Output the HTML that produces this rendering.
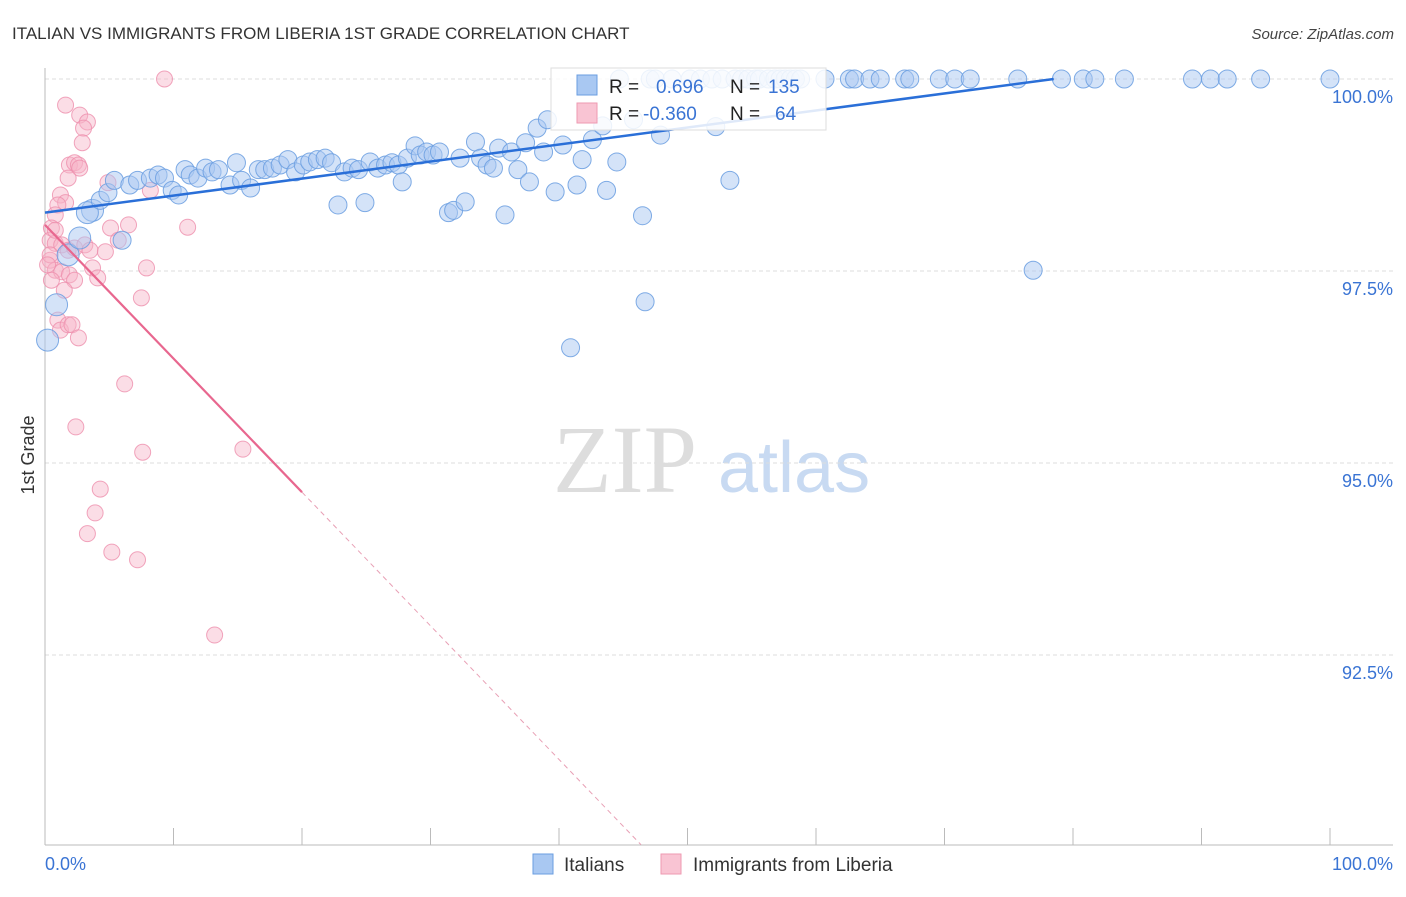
<!DOCTYPE html>
<html><head><meta charset="utf-8"><style>
body{margin:0;background:#fff;font-family:"Liberation Sans",sans-serif}
svg text{font-family:"Liberation Sans",sans-serif}
</style></head><body>
<svg id="chart" width="1406" height="892" viewBox="0 0 1406 892" xmlns="http://www.w3.org/2000/svg">
<text x="12" y="39" font-size="17" fill="#333">ITALIAN VS IMMIGRANTS FROM LIBERIA 1ST GRADE CORRELATION CHART</text>
<text x="1394" y="39" font-size="15" fill="#444" text-anchor="end" font-style="italic">Source: ZipAtlas.com</text>
<text transform="translate(34,455) rotate(-90)" font-size="18" fill="#333" text-anchor="middle">1st Grade</text>
<g>
<text x="553" y="492" font-size="96" fill="#ddd" font-family="Liberation Serif" style="font-family:'Liberation Serif',serif">ZIP</text>
<text x="718" y="492" font-size="72" fill="#c8daf2">atlas</text>
</g>
<g id="grid"></g><g id="axes"></g><g id="pinkpts"></g><g id="bluepts"></g><g id="lines"></g>
<g>
<rect x="551" y="68" width="275" height="62" fill="#fff" fill-opacity="0.85" stroke="#ddd"/>
<rect x="577" y="75" width="20" height="20" fill="#a9c8f2" stroke="#6a9ee0"/>
<rect x="577" y="103" width="20" height="20" fill="#f9c4d3" stroke="#ee9ab2"/>
<text x="609" y="93" font-size="19" fill="#222">R =</text><text x="656" y="93" font-size="19" fill="#3a74d4">0.696</text>
<text x="730" y="93" font-size="19" fill="#222">N =</text><text x="768" y="93" font-size="19" fill="#3a74d4">135</text>
<text x="609" y="120" font-size="19" fill="#222">R =</text><text x="643" y="120" font-size="19" fill="#3a74d4">-0.360</text>
<text x="730" y="120" font-size="19" fill="#222">N =</text><text x="775" y="120" font-size="19" fill="#3a74d4">64</text>
</g>
<g>
<rect x="533" y="854" width="20" height="20" fill="#a9c8f2" stroke="#6a9ee0"/>
<text x="564" y="871" font-size="19" fill="#333">Italians</text>
<rect x="661" y="854" width="20" height="20" fill="#f9c4d3" stroke="#ee9ab2"/>
<text x="693" y="871" font-size="19" fill="#333">Immigrants from Liberia</text>
</g>
</svg>
<script>
const yTicks=[100,97.5,95,92.5];
const yTickLabels=["100.0%","97.5%","95.0%","92.5%"];
const xTickLabels=["0.0%","100.0%"];
const blueX=[0.2,0.9,1.8,2.7,3.7,3.3,4.3,4.9,5.4,6.0,6.6,7.2,8.2,8.8,9.3,9.9,10.4,10.9,11.3,11.9,12.5,13.0,13.5,14.4,14.9,15.3,16.0,16.6,17.1,17.7,18.3,18.9,19.5,20.1,20.6,21.2,21.8,22.3,22.8,23.3,23.9,24.4,24.9,25.3,25.9,26.5,27.0,27.5,27.8,28.2,28.8,29.2,29.7,30.2,30.7,31.4,31.8,32.3,32.7,33.5,33.9,34.4,34.9,35.3,35.8,36.3,36.8,37.4,37.7,38.3,38.8,39.1,39.7,40.3,40.9,41.4,41.8,42.6,43.4,43.7,44.5,45.8,46.5,46.7,47.9,52.2,53.3,76.9,
44.7,47.1,47.5,48.8,50.2,51.0,51.9,52.7,53.7,54.2,54.7,55.3,55.6,56.3,56.8,57.2,57.6,58.0,58.4,58.8,60.7,62.6,63.0,64.2,65.0,66.9,67.3,69.6,70.8,72.0,75.7,79.1,80.8,81.7,84.0,89.3,90.7,92.0,94.6,100];
const blueY=[96.60,97.06,97.71,97.93,98.29,98.26,98.42,98.52,98.68,97.90,98.62,98.68,98.71,98.75,98.71,98.55,98.49,98.82,98.75,98.71,98.84,98.79,98.82,98.62,98.91,98.68,98.58,98.82,98.82,98.84,98.88,98.95,98.79,98.88,98.92,98.95,98.97,98.91,98.36,98.79,98.84,98.82,98.39,98.92,98.84,98.88,98.91,98.88,98.66,98.97,99.13,99.01,99.05,99.01,99.05,98.26,98.29,98.97,98.40,99.18,98.97,98.88,98.84,99.10,98.23,99.05,98.82,99.17,98.66,99.36,99.05,99.47,98.53,99.14,96.50,98.62,98.95,99.21,99.39,98.55,98.92,99.47,98.22,97.10,99.27,99.38,98.68,97.51,
100,100,100,100,100,100,100,100,100,100,100,100,100,100,100,100,100,100,100,100,100,100,100,100,100,100,100,100,100,100,100,100,100,100,100,100,100,100,100,100];
const pinkX=[9.3,1.6,2.7,3.3,3.0,2.9,1.9,2.3,2.6,2.7,1.8,1.2,1.6,1.0,0.8,0.5,0.4,0.8,1.3,1.8,2.3,3.1,3.5,4.7,5.1,6.5,11.1,5.7,0.4,0.8,1.3,1.9,2.3,3.7,4.1,7.9,7.5,1.0,1.2,1.8,2.1,2.6,0.4,0.5,6.2,2.4,7.6,15.4,4.3,3.9,3.3,5.2,7.2,13.2,4.9,8.2,1.5,0.2,0.8];
const pinkY=[100,99.66,99.53,99.44,99.36,99.17,98.88,98.91,98.88,98.84,98.71,98.49,98.39,98.36,98.23,98.06,97.90,97.86,97.84,97.77,97.80,97.84,97.77,97.75,98.06,98.10,98.07,97.90,97.64,97.51,97.49,97.45,97.38,97.54,97.41,97.54,97.15,96.86,96.73,96.80,96.80,96.63,97.71,97.38,96.03,95.47,95.14,95.18,94.66,94.35,94.08,93.84,93.74,92.76,98.65,98.55,97.25,97.58,98.03];
const blueTrend=[98.26,100.0];   // y at x=0, x where reaches 100
const pinkTrend=[98.10,-0.174];  // intercept, slope
const NS="http://www.w3.org/2000/svg";
const X0=45,X1=1330,Y100=79,PXPER=76.8;
const sx=v=>X0+(X1-X0)*v/100;
const sy=v=>Y100+(100-v)*PXPER;
function mk(t,a,p){const e=document.createElementNS(NS,t);for(const k in a)e.setAttribute(k,a[k]);p.appendChild(e);return e;}
const grid=document.getElementById('grid'),axes=document.getElementById('axes');
yTicks.forEach((t,i)=>{
 const l=mk('line',{x1:45,x2:1393,y1:sy(t),y2:sy(t),stroke:'#ddd','stroke-dasharray':'4,3'},grid);
 
 
 const tx=mk('text',{x:1393,y:sy(t)+24,'font-size':18,fill:'#3a74d4','text-anchor':'end'},grid);
 tx.textContent=yTickLabels[i];
 
 
});
const ax=mk('line',{x1:45,x2:1393,y1:845,y2:845,stroke:'#bbb'},axes);


const ay=mk('line',{x1:45,x2:45,y1:68,y2:845,stroke:'#bbb'},axes);


for(let k=0;k<=10;k++){const t=mk('line',{x1:sx(k*10),x2:sx(k*10),y1:828,y2:845,stroke:'#bbb'},axes);
 
 }
[[0,'start',45],[100,'end',1393]].forEach((d,i)=>{const t=mk('text',{x:d[2],y:870,'font-size':18,fill:'#3a74d4','text-anchor':d[1]},axes);t.textContent=xTickLabels[i];
 
 });
const pg=document.getElementById('pinkpts');
pinkX.forEach((x,i)=>{const c=mk('circle',{cx:sx(x),cy:sy(pinkY[i]),r:8,fill:'#f6b3c8','fill-opacity':0.45,stroke:'#ee8fac','stroke-opacity':0.8},pg);
 
 });
const bg=document.getElementById('bluepts');
blueX.forEach((x,i)=>{const c=mk('circle',{cx:sx(x),cy:sy(blueY[i]),r:x<4?11:9,fill:'#a9c8f2','fill-opacity':0.5,stroke:'#6a9ee0','stroke-opacity':0.85},bg);
 
 });
const lg=document.getElementById('lines');
const bl=mk('polyline',{points:`${sx(0)},${sy(blueTrend[0])} ${sx(blueTrend[1]*0.785)},${sy(100)}`,stroke:'#2a6fd8','stroke-width':2.5,fill:'none'},lg);
bl.setAttribute('points',`${sx(0)},${sy(blueTrend[0])} ${sx(78.5)},${sy(100)}`);


const py=x=>pinkTrend[0]+pinkTrend[1]*x;
const pl=mk('line',{x1:sx(0),y1:sy(py(0)),x2:sx(20),y2:sy(py(20)),stroke:'#e8678f','stroke-width':2.2},lg);


const xe=(90.03-pinkTrend[0])/pinkTrend[1];
const pd=mk('line',{x1:sx(20),y1:sy(py(20)),x2:sx(xe),y2:sy(py(xe)),stroke:'#e8a0b5','stroke-width':1,'stroke-dasharray':'5,4'},lg);


</script>
</body></html>
